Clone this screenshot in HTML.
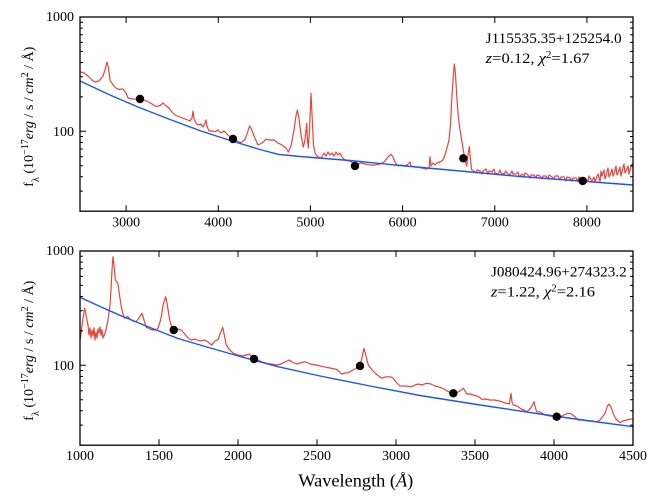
<!DOCTYPE html>
<html><head><meta charset="utf-8"><style>
html,body{margin:0;padding:0;background:#fff;}
svg{display:block;}
svg text{font-family:"Liberation Serif","Noto Serif CJK SC","DejaVu Serif",serif;fill:#000;}
</style></head><body>
<svg width="660" height="504" viewBox="0 0 660 504" xmlns="http://www.w3.org/2000/svg">
<defs>
<clipPath id="c1"><rect x="80" y="17" width="553" height="194.2"/></clipPath>
<clipPath id="c2"><rect x="80" y="251" width="553" height="194.2"/></clipPath>
<g id="yaxis">
<path d="M80 22.2h3M80 28.1h3M80 34.7h3M80 42.4h3M80 51.4h3M80 62.5h3M80 76.8h3M80 96.9h3M80 136.5h3M80 142.4h3M80 149h3M80 156.7h3M80 165.7h3M80 176.8h3M80 191.1h3M80 131.3h6
M633 22.2h-3M633 28.1h-3M633 34.7h-3M633 42.4h-3M633 51.4h-3M633 62.5h-3M633 76.8h-3M633 96.9h-3M633 136.5h-3M633 142.4h-3M633 149h-3M633 156.7h-3M633 165.7h-3M633 176.8h-3M633 191.1h-3M633 131.3h-6" stroke="#000" stroke-width="1" fill="none"/>
<text x="74" y="21" font-size="14" text-anchor="end">1000</text>
<text x="74" y="136" font-size="14" text-anchor="end">100</text>
</g>
</defs>

<!-- ===== TOP PANEL ===== -->
<g clip-path="url(#c1)">
<polyline fill="none" stroke="#e8443a" stroke-width="1.2" stroke-linejoin="round" points="80,71.7 84,73 88,76 92,80 95,82 99,81 103,76 105,70 107,62 108.5,68 110,80 113,85 116,88 119,89.5 123,89 126,93 128,98 132,99 136,99 140,99 144,100 148,101.7 152,104 156,106.5 160,105.5 163,103 165,105 169,108 172,112 175,115 180,117 185,119 190,121 192,118 193,111 194,119 196,123 198,125 201,124 203,127 205,123 206,120 207,126 209,131 212,131 215,131.7 218,130 221,133 224,131 226,133 229,136 233,139 237,141 241,142.7 244.7,140 247,134 249.5,126 251,128 254,136 258,145 262,143 266,139.3 270,140 274,140 278,143 282,145 286,148 288.3,152 291,146 294,130 296,116 297.3,110 299,118 301,135 303.3,147 305,140 306.7,123.3 307.5,140 308.3,148 309.5,130 311,93.3 312.3,120 313.5,145 315,153 317,156 320,158.3 322,157 324,153 326,156 328,152 330,155 332,153 334,156 336,152 338,155 340,153 342,157 344,159 346.7,160.7 350,161 353,163 357,164 361,163 365,164 370,165 375,165 380,164 384,162 388,157 391,154.3 393,157 395,162 398,166 401,165 404,166 407,165 410,162 411,166 414,167 418,167 422,168 426,169 429,168 430,156.7 431,166 433,163 435,165 437,163 440,162 443,160 445,155 447,148 449,140 450.5,125 451.7,100 453,80 454.3,64 455.3,72 456,83 457,100 458.3,116.7 460,130 462,142 463.3,150 465,160 466.7,166 468,155 469.3,146.7 470.5,160 471.7,170 474,171 476,173 477,170 480,171 482,174 483,171 486,169 488,174 489,171 492,172 494,169 495,173 498,174 500,170 501,173 504,174 506,171 507,173 510,175 512,171 513,174 516,174 518,172 519,177 522,174 524,176 525,173 528,175 530,178 531,175 534,175 536,178 537,175 540,176 542,179 543,176 546,176 548,179 549,175 552,177 554,179 555,176 558,176 560,180 561,177 564,177 566,181 567,177 570,178 572,181 573,178 576,178 578,181 579,177 582,179 584,181 585,178 588,181 589,176 590,178 592,181 594,177 595,182 596,179 598,174 600,182 601,171 602,176 604,170 605,179 606,176 608,168 609,177 610,175 612,169 613,176 614,174 616,166 617,175 618,173 620,167 621,176 622,172 624,164 625,173 626,171 628,166 629,174 630,170 632,164 633,168"/>
<polyline fill="none" stroke="#1c55f5" stroke-width="1.4" stroke-linejoin="round" points="80,81 110,95 138,107 170,119.5 201,131 235,142 260,149.5 278,154.3 300,156.5 350,160.5 400,165.5 460,171 520,176.5 580,181 633,185"/>
</g>
<g fill="#000">
<circle cx="140" cy="99" r="4.2"/><circle cx="233" cy="139" r="4.2"/><circle cx="355" cy="166" r="4.2"/><circle cx="463.3" cy="158.3" r="4.2"/><circle cx="582.7" cy="181" r="4.2"/>
</g>
<rect x="80" y="17" width="553" height="194.2" fill="none" stroke="#000" stroke-width="1.3"/>
<use href="#yaxis"/>
<path d="M126.1 211.2v-6M218.3 211.2v-6M310.4 211.2v-6M402.6 211.2v-6M494.8 211.2v-6M586.9 211.2v-6M126.1 17v6M218.3 17v6M310.4 17v6M402.6 17v6M494.8 17v6M586.9 17v6" stroke="#000" stroke-width="1"/>
<g font-size="14" text-anchor="middle">
<text x="126.1" y="226.5">3000</text><text x="218.3" y="226.5">4000</text><text x="310.4" y="226.5">5000</text><text x="402.6" y="226.5">6000</text><text x="494.8" y="226.5">7000</text><text x="586.9" y="226.5">8000</text>
</g>
<text x="485.7" y="43" font-size="15" textLength="136" lengthAdjust="spacingAndGlyphs">J115535.35+125254.0</text>
<text x="485.7" y="63" font-size="15" textLength="104" lengthAdjust="spacingAndGlyphs"><tspan font-style="italic">z</tspan>=0.12, <tspan font-style="italic">χ</tspan><tspan font-size="10" baseline-shift="super">2</tspan>=1.67</text>
<text transform="translate(33,116.7) rotate(-90)" text-anchor="middle" font-size="14" textLength="140" lengthAdjust="spacingAndGlyphs">f<tspan font-size="10" baseline-shift="sub">λ</tspan> (10<tspan font-size="10" baseline-shift="super">−17</tspan><tspan font-style="italic">erg</tspan> / s / <tspan font-style="italic">cm</tspan><tspan font-size="10" baseline-shift="super">2</tspan> / Å)</text>

<!-- ===== BOTTOM PANEL ===== -->
<g clip-path="url(#c2)">
<polyline fill="none" stroke="#e8443a" stroke-width="1.2" stroke-linejoin="round" points="80,341 81.5,330 83,318 84.7,308 86,315 88,325 89,335 90,328 91,338 92,330 93,336 94,328 95,340 96,332 97,338 98,329 99,333 100,327 101,335 102,330 103,338 104.7,334 106,330 108,320 110,305 111,290 112,270 113,256.7 114,265 115.3,280 117,282 118,284 119.5,295 121.3,306.7 123,314 124.7,318.3 126,317 128,316.7 130,319 133,321 136,321.7 139,318 142,313.3 144,320 146.3,327.3 150,329 153,330 156.3,330 158,328 160,322 161.3,316.7 163,305 165.7,296.7 167,303 169.7,320 172,328 174,330 177,329 181,330 184,333 188,338 191.3,340 195,339 200,341 204.7,340 208,342 211.7,345 215,341 218.3,339.3 220,334 222.7,327.3 224.5,336 226,344 228.3,348.3 233.3,353.3 238,355 243.3,356 246,355 249.3,354 252,357 254,359 258,360 262,362 266.7,363.3 271,364 276.7,365 281,364 285,362 289.3,360 292,362 296.7,364 300,363 305,361.7 310,364 316,365 323.3,366.7 330,368 336.7,369.3 341.7,374 345,373 348.3,372.7 353,370 358.3,367.3 361,362 364,348.3 366,356 368.3,365 372,370 376,374 381.7,378.3 385,377 388.3,376.7 391,377 393.3,378.3 396,382 400,386 405,386 411.7,386.7 415,385 418.3,384 421.7,385 426.7,383.3 431,384 435,386 440,387.3 444,389 448.3,391.7 453.3,393.3 458,392 461,390 463.3,388.3 464.5,390 466.7,394 470,394 473,395 476.7,396 479,397 481.7,399.3 485,399 490,400 495,400 501.7,401.7 505,403 509.3,404 511,393.3 512,402 513.3,405 517,406 521.7,409.3 524,410 526.7,411.7 530,409 532,406 534,401.7 535.5,408 536.7,411.7 540,412 545,415 550,416 556.7,416.7 562,416 566,414 570,413.3 574,416 578.3,420 583,420 588,421 592,421 596.7,421.7 600,420 603,416 605,413.3 607,407 609,404 611,407 613.3,414 616,419 620,422.7 623,421 626.7,420 630,419 633,419.3"/>
<polyline fill="none" stroke="#1c55f5" stroke-width="1.4" stroke-linejoin="round" points="80,297.3 100,306.5 120,315.3 140,323.5 160,331.5 178,338.5 200,345 240,356.5 278,366.7 320,376 370,386 420,395.5 480,405 540,414 590,421 633,426.7"/>
</g>
<g fill="#000">
<circle cx="173.7" cy="330" r="4.2"/><circle cx="254" cy="359" r="4.2"/><circle cx="360" cy="366" r="4.2"/><circle cx="453.3" cy="393.3" r="4.2"/><circle cx="556.7" cy="416.7" r="4.2"/>
</g>
<rect x="80" y="251" width="553" height="194.2" fill="none" stroke="#000" stroke-width="1.3"/>
<use href="#yaxis" transform="translate(0,234)"/>
<path d="M159 445.2v-6M238 445.2v-6M317 445.2v-6M396 445.2v-6M475 445.2v-6M554 445.2v-6M159 251v6M238 251v6M317 251v6M396 251v6M475 251v6M554 251v6" stroke="#000" stroke-width="1"/>
<g font-size="14" text-anchor="middle">
<text x="80" y="460">1000</text><text x="159" y="460">1500</text><text x="238" y="460">2000</text><text x="317" y="460">2500</text><text x="396" y="460">3000</text><text x="475" y="460">3500</text><text x="554" y="460">4000</text><text x="633" y="460">4500</text>
</g>
<text x="491" y="276.7" font-size="15" textLength="135.7" lengthAdjust="spacingAndGlyphs">J080424.96+274323.2</text>
<text x="491" y="296.7" font-size="15" textLength="104" lengthAdjust="spacingAndGlyphs"><tspan font-style="italic">z</tspan>=1.22, <tspan font-style="italic">χ</tspan><tspan font-size="10" baseline-shift="super">2</tspan>=2.16</text>
<text transform="translate(33,350.7) rotate(-90)" text-anchor="middle" font-size="14" textLength="140" lengthAdjust="spacingAndGlyphs">f<tspan font-size="10" baseline-shift="sub">λ</tspan> (10<tspan font-size="10" baseline-shift="super">−17</tspan><tspan font-style="italic">erg</tspan> / s / <tspan font-style="italic">cm</tspan><tspan font-size="10" baseline-shift="super">2</tspan> / Å)</text>

<text x="355.8" y="486.7" font-size="18" text-anchor="middle" textLength="115" lengthAdjust="spacingAndGlyphs">Wavelength (<tspan font-style="italic">Å</tspan>)</text>
</svg>
</body></html>
